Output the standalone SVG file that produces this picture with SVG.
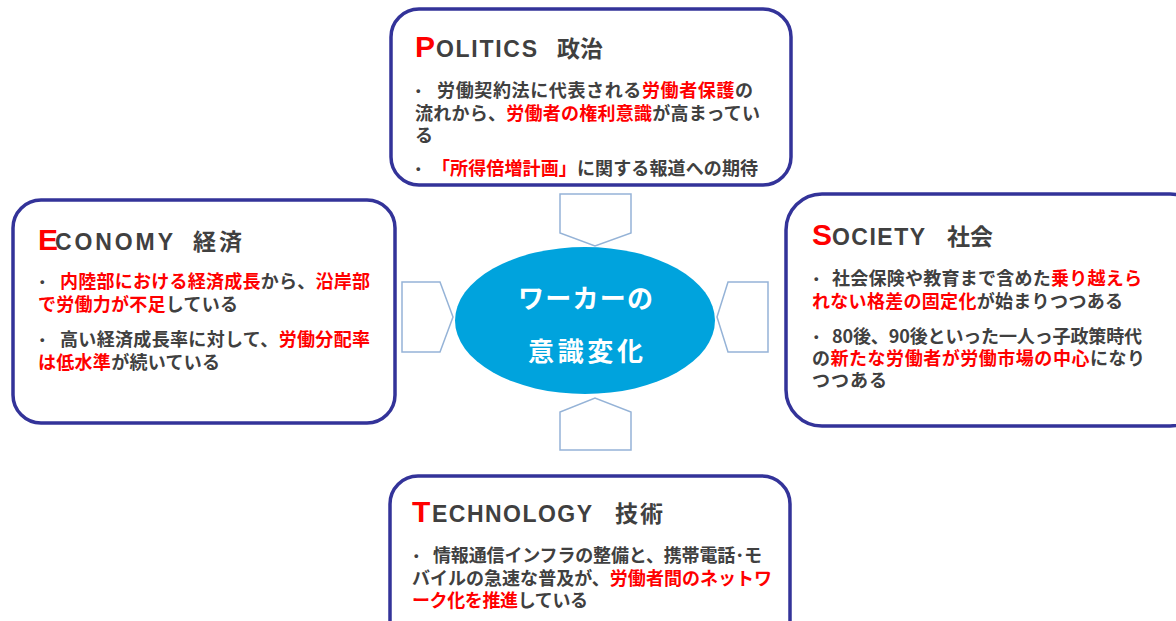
<svg xmlns="http://www.w3.org/2000/svg" width="1176" height="621" viewBox="0 0 1176 621">
<style>
.box{fill:#fff;stroke:#333399;stroke-width:3.5}
.arr{fill:#fff;stroke:#95b3d7;stroke-width:1.5}
.t{font-family:"Noto Sans CJK JP","Noto Sans",sans-serif;font-size:18px;font-weight:bold;fill:#404040}
.r{fill:#ff0000}
.bl{font-family:"Liberation Sans",Arial,sans-serif;font-size:13px;font-weight:bold;fill:#404040}
.h1{font-family:"Liberation Sans",Arial,sans-serif;font-size:30px;font-weight:bold;fill:#ff0000}
.h2{font-family:"Liberation Sans",Arial,sans-serif;font-size:23px;font-weight:bold;fill:#404040}
.hj{font-family:"Noto Sans CJK JP",sans-serif;font-size:23px;font-weight:bold;fill:#404040}
.c{font-family:"Noto Sans CJK JP",sans-serif;font-size:26px;font-weight:bold;fill:#fff}
</style>
<g id="connectors">
<polygon class="arr" points="560,194 631,194 631,233 595,246 560,233"/>
<polygon class="arr" points="560,450 631,450 631,412 595,398 560,412"/>
<polygon class="arr" points="402,282 440,282 453,317 440,352 402,352"/>
<polygon class="arr" points="768,282 728,282 717,317 728,352 768,352"/>
</g>
<g id="center">
<ellipse cx="585" cy="320.5" rx="130" ry="73.5" fill="#00a3dd"/>
<text class="c" x="518" y="308" textLength="135" lengthAdjust="spacing">ワーカーの</text>
<text class="c" x="528" y="361" textLength="115" lengthAdjust="spacing">意識変化</text>
</g>
<g id="politics">
<rect class="box" x="391" y="9" width="400" height="176" rx="28"/>
<text class="h1" x="415" y="57">P</text>
<text class="h2" x="436" y="57" textLength="101" lengthAdjust="spacing">OLITICS</text>
<text class="hj" x="557" y="57" textLength="46" lengthAdjust="spacing">政治</text>
<text class="bl" x="416" y="95">•</text>
<text class="t" x="437" y="97" textLength="316" lengthAdjust="spacing">労働契約法に代表される<tspan class="r">労働者保護</tspan>の</text>
<text class="t" x="415" y="120" textLength="345" lengthAdjust="spacing">流れから、<tspan class="r">労働者の権利意識</tspan>が高まってい</text>
<text class="t" x="415" y="142">る</text>
<text class="bl" x="416" y="173">•</text>
<text class="t" x="432" y="175" textLength="326" lengthAdjust="spacing"><tspan class="r">「所得倍増計画」</tspan>に関する報道への期待</text>
</g>
<g id="economy">
<rect class="box" x="13" y="200" width="382" height="223" rx="28"/>
<text class="h1" x="38" y="250">E</text>
<text class="h2" x="55" y="250" textLength="118" lengthAdjust="spacing">CONOMY</text>
<text class="hj" x="193" y="250" textLength="49" lengthAdjust="spacing">経済</text>
<text class="bl" x="40" y="286">•</text>
<text class="t" x="60" y="288" textLength="310" lengthAdjust="spacing"><tspan class="r">内陸部における経済成長</tspan>から、<tspan class="r">沿岸部</tspan></text>
<text class="t" x="38" y="311" textLength="200" lengthAdjust="spacing"><tspan class="r">で労働力が不足</tspan>している</text>
<text class="bl" x="40" y="344">•</text>
<text class="t" x="60" y="346" textLength="310" lengthAdjust="spacing">高い経済成長率に対して、<tspan class="r">労働分配率</tspan></text>
<text class="t" x="38" y="369" textLength="182" lengthAdjust="spacing"><tspan class="r">は低水準</tspan>が続いている</text>
</g>
<g id="society">
<rect class="box" x="786" y="194" width="420" height="232" rx="36"/>
<text class="h1" x="812" y="245">S</text>
<text class="h2" x="832" y="245" textLength="93" lengthAdjust="spacing">OCIETY</text>
<text class="hj" x="947" y="245" textLength="46" lengthAdjust="spacing">社会</text>
<text class="bl" x="814" y="283">•</text>
<text class="t" x="832" y="285" textLength="310" lengthAdjust="spacing">社会保険や教育まで含めた<tspan class="r">乗り越えら</tspan></text>
<text class="t" x="812" y="308" textLength="311" lengthAdjust="spacing"><tspan class="r">れない格差の固定化</tspan>が始まりつつある</text>
<text class="bl" x="814" y="341">•</text>
<text class="t" x="832" y="343" textLength="310" lengthAdjust="spacing">80後、90後といった一人っ子政策時代</text>
<text class="t" x="812" y="365" textLength="333" lengthAdjust="spacing">の<tspan class="r">新たな労働者が労働市場の中心</tspan>になり</text>
<text class="t" x="812" y="387" textLength="75" lengthAdjust="spacing">つつある</text>
</g>
<g id="technology">
<rect class="box" x="390" y="476" width="400" height="180" rx="28"/>
<text class="h1" x="412" y="522">T</text>
<text class="h2" x="432" y="522" textLength="160" lengthAdjust="spacing">ECHNOLOGY</text>
<text class="hj" x="615" y="522" textLength="48" lengthAdjust="spacing">技術</text>
<text class="bl" x="414" y="560">•</text>
<text class="t" x="433" y="562" textLength="329" lengthAdjust="spacing">情報通信インフラの整備と、携帯電話･モ</text>
<text class="t" x="412" y="585" textLength="360" lengthAdjust="spacing">バイルの急速な普及が、<tspan class="r">労働者間のネットワ</tspan></text>
<text class="t" x="412" y="607" textLength="176" lengthAdjust="spacing"><tspan class="r">ーク化を推進</tspan>している</text>
</g>
</svg>
